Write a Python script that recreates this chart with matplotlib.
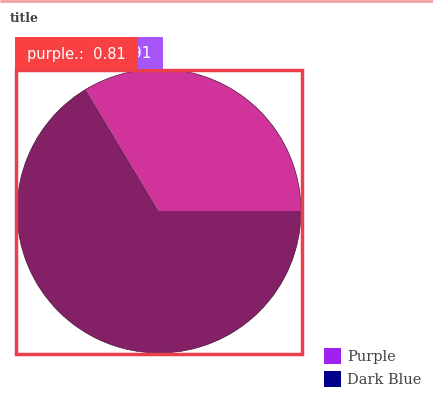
import matplotlib
matplotlib.use("Agg")
import matplotlib.pyplot as plt
from matplotlib.patches import Rectangle, Circle

labels = ["Purple", "Dark Blue"]
legend_colors = ["#A020F0", "#00008B"]
values = [0.81, 1.60]
slice_colors = ["#D0339A", "#832066"]

W, H = 433, 400
fig = plt.figure(figsize=(W/100, H/100), dpi=100)

# pie axes: center (159,211), radius 142 px
cx, cy, r = 159, 211, 142
ax = fig.add_axes([(cx - r)/W, 1 - (cy + r)/H, 2*r/W, 2*r/H])
ax.pie(values, colors=slice_colors, startangle=0, counterclock=True,
       wedgeprops=dict(linewidth=0))
ax.add_patch(Circle((0, 0), 1, fill=False, edgecolor="#4a1840", lw=0.5))
ax.set_xlim(-1, 1); ax.set_ylim(-1, 1)
ax.set_aspect("auto")
ax.axis("off")

ov = fig.add_axes([0, 0, 1, 1], facecolor="none")
ov.set_xlim(0, W); ov.set_ylim(H, 0); ov.axis("off")

# top line
ov.plot([0, W], [1, 1], color="#F4A0A0", lw=2, solid_capstyle="butt")
# title
ov.text(10, 18, "title", fontsize=9, fontweight="bold", family="DejaVu Serif",
        color="#444444", va="center", ha="left")
# highlight rectangle
ov.add_patch(Rectangle((15.5, 69.5), 286, 284, fill=False, edgecolor="#EC3F4C", lw=2.5))
# tooltip
ov.add_patch(Rectangle((138, 37), 25, 32, facecolor="#A855F7", edgecolor="none"))
ov.text(151, 54, "91", color="white", fontsize=11, va="center", ha="right")
ov.add_patch(Rectangle((15, 37), 123, 32, facecolor="#F94144", edgecolor="none", zorder=3))
ov.text(27, 54, "purple.:  0.81", color="white", fontsize=10.5, va="center", ha="left", zorder=4)

# legend
for i, (lab, col) in enumerate(zip(labels, legend_colors)):
    y = 356 + i*23
    ov.add_patch(Rectangle((324, y - 8), 17, 16, facecolor=col, edgecolor="none"))
    ov.text(347, y + 1, lab, fontsize=10.5, family="DejaVu Serif", color="#444444",
            va="center", ha="left")

fig.savefig("out.png", dpi=100)
